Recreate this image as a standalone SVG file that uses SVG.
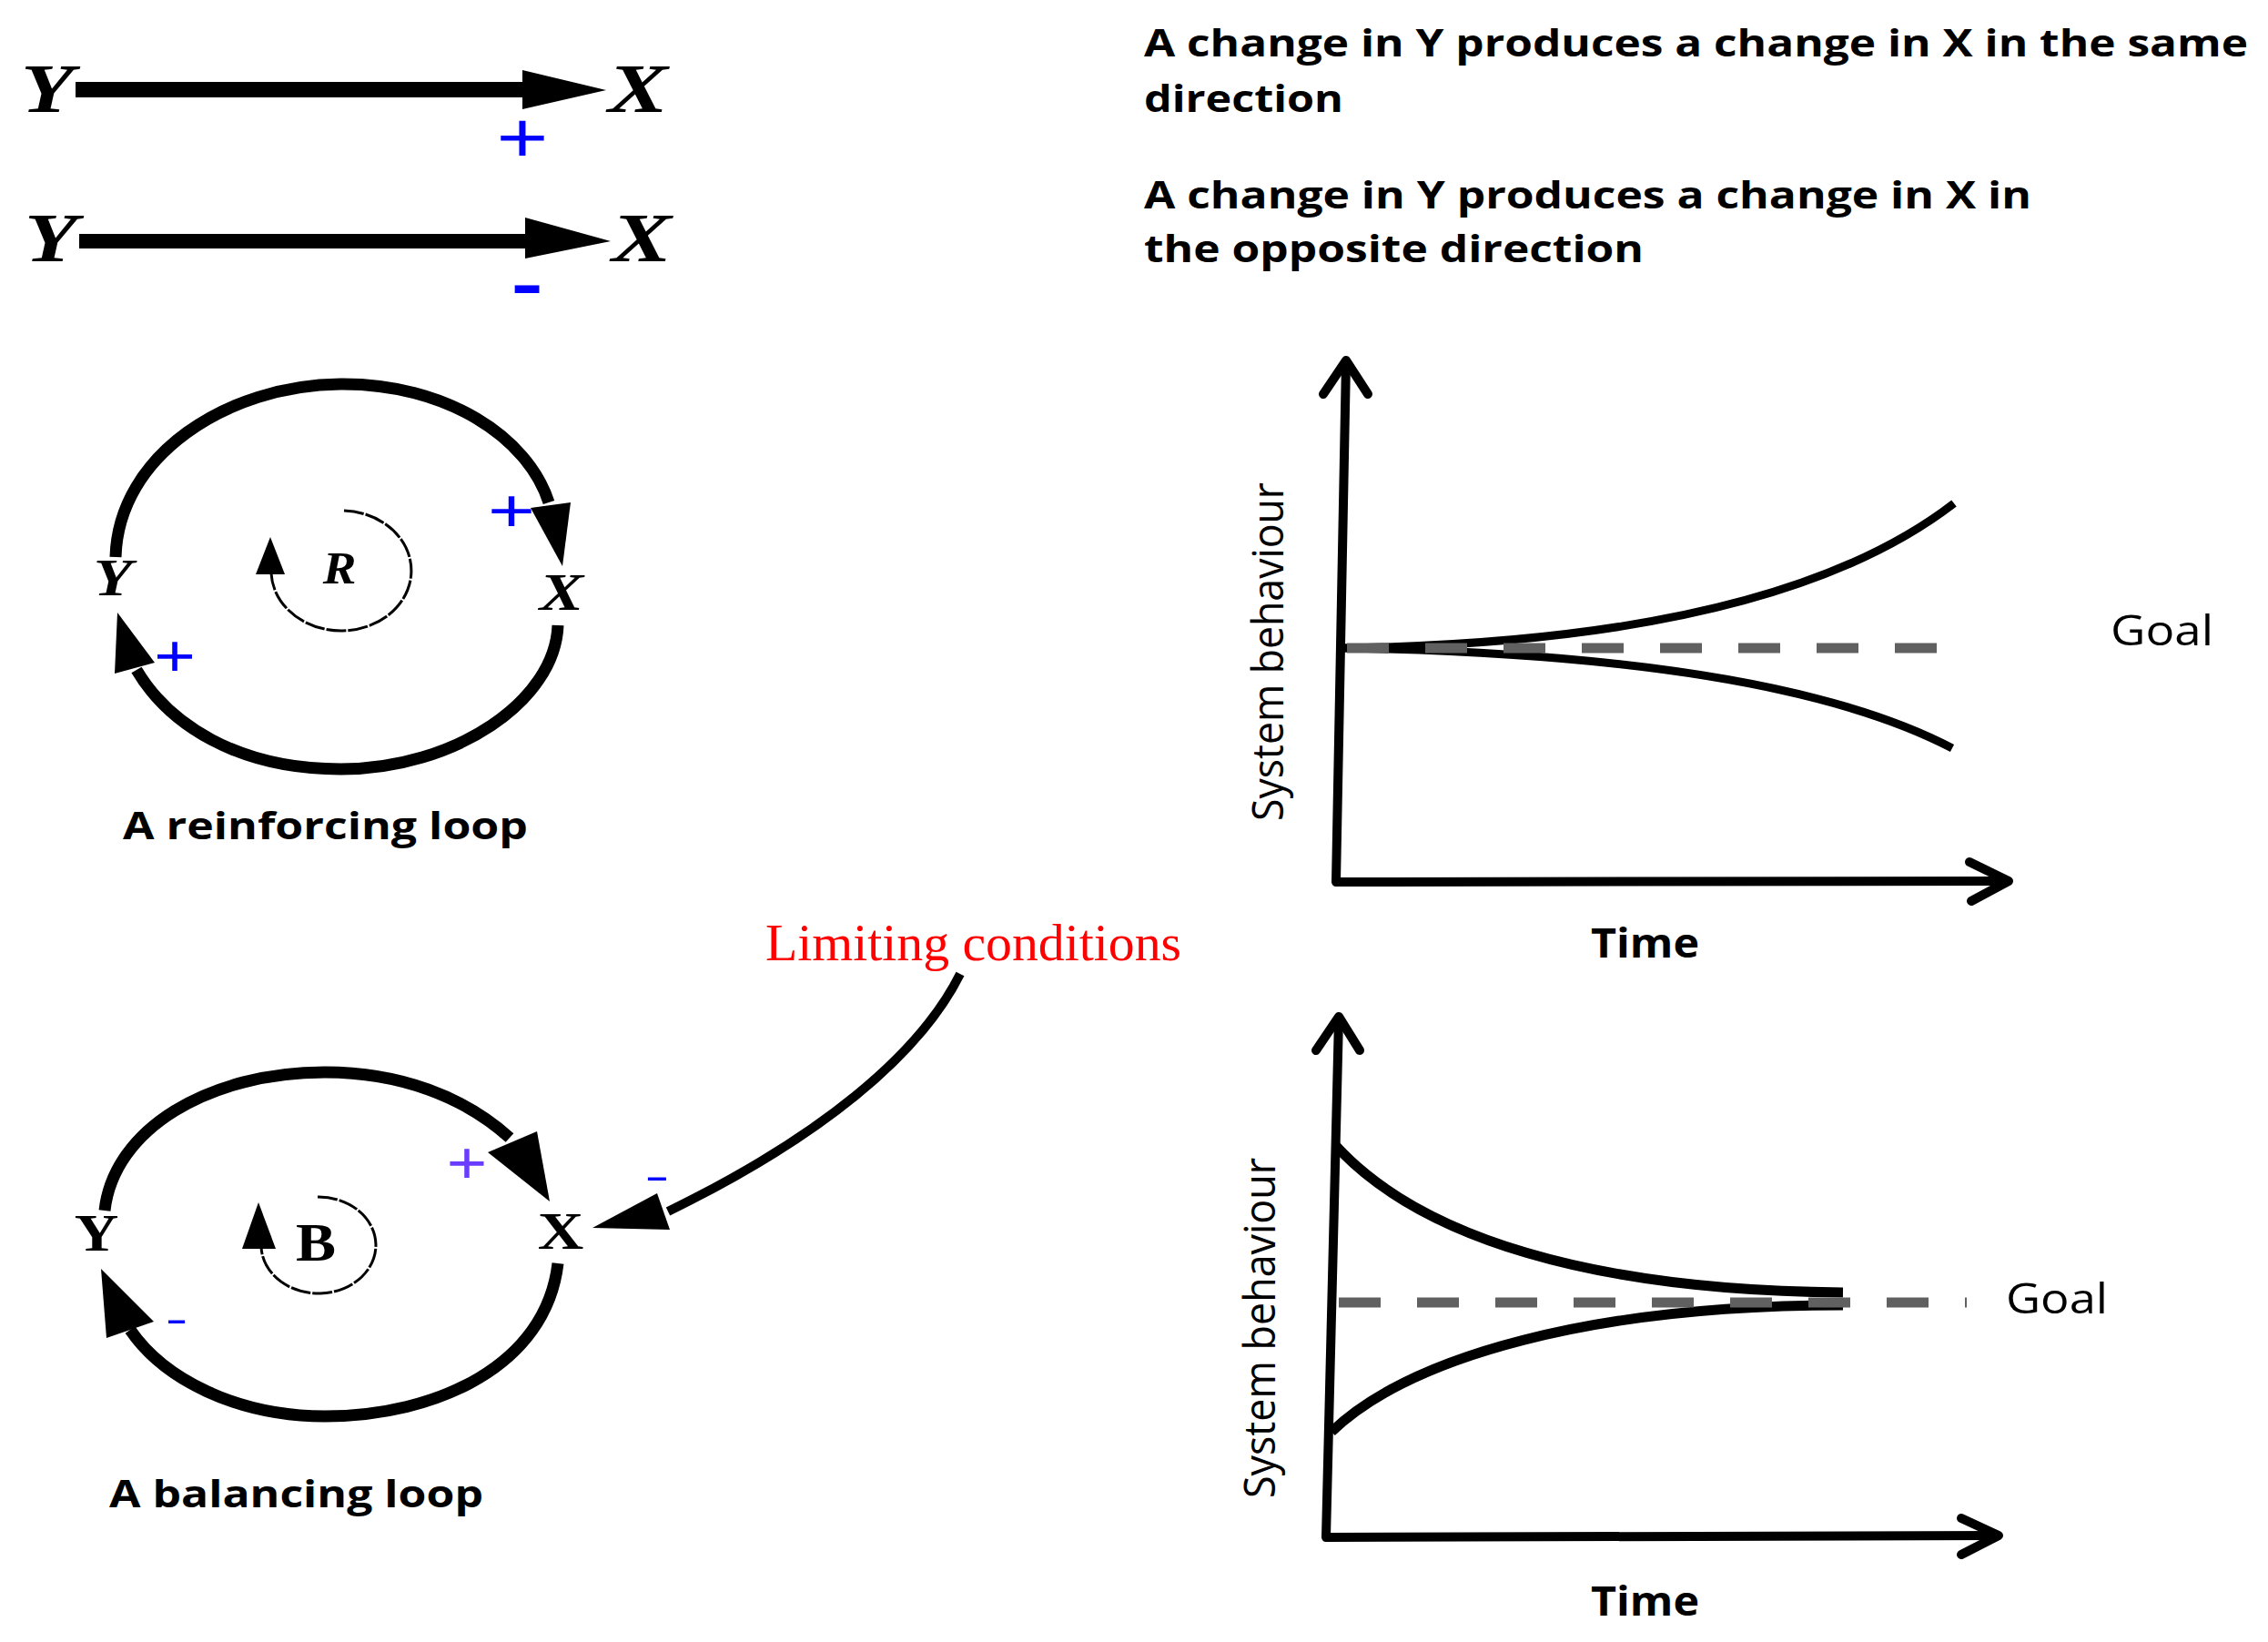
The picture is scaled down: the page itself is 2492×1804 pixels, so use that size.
<svg xmlns="http://www.w3.org/2000/svg" width="2492" height="1804" viewBox="0 0 2492 1804">
<style>
.it { font-family: "Liberation Serif", "Times New Roman", serif; font-weight: bold; font-style: italic; fill: #000; text-anchor: middle; }
.up { font-family: "Liberation Serif", "Times New Roman", serif; font-weight: bold; fill: #000; text-anchor: middle; }
.sans { font-family: "Open Sans", "Liberation Sans", sans-serif; fill: #000; }
.bold { font-weight: bold; }
.sign { font-family: "Liberation Sans", Arial, sans-serif; fill: #0000ff; text-anchor: middle; }
.red { font-family: "Liberation Serif", "Times New Roman", serif; fill: #ff0000; }
.loop { fill: none; stroke: #000; stroke-width: 13; }
.inner { fill: none; stroke: #000; stroke-width: 3; stroke-dasharray: 22 2; }
.axis { fill: none; stroke: #000; stroke-width: 10; stroke-linecap: round; stroke-linejoin: round; }
.curve { fill: none; stroke: #000; stroke-width: 9; }
.goal { fill: none; stroke: #606060; stroke-width: 11; stroke-dasharray: 46 40; }
.head { fill: #000; stroke: none; }
</style>

<g id="connectors">
  <g id="link-positive">
    <rect class="head" x="83" y="90" width="494" height="17"/>
    <polygon class="head" points="574,77 666,99 574,120"/>
  </g>
  <g id="link-negative">
    <rect class="head" x="87" y="257" width="492" height="16"/>
    <polygon class="head" points="577,239 671,265 577,284"/>
  </g>
  <g id="reinforcing-links">
    <path class="loop" d="M127 612 C130 500 250 423 374 422 C490 421 580 480 603 552"/>
    <polygon class="head" points="583,558 627,552 618,622"/>
    <path class="loop" d="M613 687 C610 770 500 845 374 845 C260 845 185 795 150 736"/>
    <polygon class="head" points="129,673 126,740 170,728"/>
    <path class="inner" d="M378 561 A77 66 0 1 1 298 630"/>
    <polygon class="head" points="297,590 281,631 313,631"/>
  </g>
  <g id="balancing-links">
    <path class="loop" d="M115 1330 C125 1240 230 1178 357 1178 C440 1178 510 1205 560 1250"/>
    <polygon class="head" points="536,1266 590,1243 604,1320"/>
    <path class="loop" d="M613 1388 C600 1500 480 1556 357 1556 C260 1556 180 1515 143 1461"/>
    <polygon class="head" points="111,1394 117,1470 169,1452"/>
    <path class="inner" d="M349 1315 A63 53 0 1 1 287 1370"/>
    <polygon class="head" points="284,1321 266,1372 303,1372"/>
  </g>
  <g id="limiting-link">
    <path fill="none" stroke="#000" stroke-width="10" d="M1055 1070 C1010 1160 900 1250 734 1331"/>
    <polygon class="head" points="651,1349 722,1311 736,1351"/>
  </g>
</g>

<g id="polarity">
  <text class="sign" font-size="78" transform="translate(574,150) scale(1.25,1)" y="27.5">+</text>
  <text class="sign" font-size="110" transform="translate(579,317)" y="29.7">-</text>
  <text class="sign" font-size="66" transform="translate(562,561) scale(1.35,1)" y="23.2">+</text>
  <text class="sign" font-size="64" transform="translate(192,720) scale(1.22,1)" y="22.5">+</text>
  <text class="sign" font-size="64" style="fill:#6a3cff" transform="translate(513,1277) scale(1.19,1)" y="22.5">+</text>
  <text class="sign" font-size="74" transform="translate(194,1452) scale(1,0.6)" y="20">-</text>
  <text class="sign" font-size="82" transform="translate(722,1295) scale(1,0.55)" y="22">-</text>
</g>

<g id="node-Y1"><text class="it" font-size="76" transform="translate(52,123) scale(1.25,1)">Y</text></g>
<g id="node-X1"><text class="it" font-size="76" transform="translate(701,123) scale(1.3,1)">X</text></g>
<g id="node-Y2"><text class="it" font-size="76" transform="translate(56,287) scale(1.25,1)">Y</text></g>
<g id="node-X2"><text class="it" font-size="76" transform="translate(705,287) scale(1.3,1)">X</text></g>

<g id="note-same">
  <text class="sans bold" font-size="42" x="1257" y="62" textLength="1213" lengthAdjust="spacingAndGlyphs">A change in Y produces a change in X in the same</text>
  <text class="sans bold" font-size="42" x="1257" y="123" textLength="219" lengthAdjust="spacingAndGlyphs">direction</text>
</g>
<g id="note-opposite">
  <text class="sans bold" font-size="42" x="1257" y="229" textLength="975" lengthAdjust="spacingAndGlyphs">A change in Y produces a change in X in</text>
  <text class="sans bold" font-size="42" x="1257" y="288" textLength="549" lengthAdjust="spacingAndGlyphs">the opposite direction</text>
</g>

<g id="node-Yr"><text class="it" font-size="58" transform="translate(124,654) scale(1.2,1)">Y</text></g>
<g id="node-Xr"><text class="it" font-size="58" transform="translate(617,670) scale(1.25,1)">X</text></g>
<g id="node-R"><text class="it" font-size="50" transform="translate(373,641) scale(1.1,1)">R</text></g>
<g id="caption-reinforcing"><text class="sans bold" font-size="42" x="135" y="922" textLength="445" lengthAdjust="spacingAndGlyphs">A reinforcing loop</text></g>

<g id="node-Yb"><text class="up" font-size="56" transform="translate(106,1374) scale(1.2,1)">Y</text></g>
<g id="node-Xb"><text class="up" font-size="56" transform="translate(616,1372) scale(1.25,1)">X</text></g>
<g id="node-B"><text class="up" font-size="60" transform="translate(347,1385) scale(1.1,1)">B</text></g>
<g id="caption-balancing"><text class="sans bold" font-size="42" x="120" y="1656" textLength="411" lengthAdjust="spacingAndGlyphs">A balancing loop</text></g>

<g id="node-limiting"><text class="red" font-size="56" x="841" y="1055" textLength="457" lengthAdjust="spacingAndGlyphs">Limiting conditions</text></g>

<g id="chart-reinforcing">
  <path class="curve" d="M1476 712 Q1950 705 2147 553"/>
  <path class="curve" d="M1476 712 Q1950 720 2145 822"/>
  <line class="goal" x1="1480" y1="712" x2="2168" y2="712"/>
  <path class="axis" d="M1479 398 L1468 969 L2205 968"/>
  <path class="axis" d="M1454 433 L1479 396 L1503 433"/>
  <path class="axis" d="M2164 947 L2207 968 L2166 990"/>
  <text class="sans" font-size="45" x="2319" y="709" textLength="113" lengthAdjust="spacingAndGlyphs">Goal</text>
  <text class="sans bold" font-size="45" x="1748" y="1052" textLength="119" lengthAdjust="spacingAndGlyphs">Time</text>
  <text class="sans" font-size="48" transform="translate(1410,902) rotate(-90)" textLength="372" lengthAdjust="spacingAndGlyphs">System behaviour</text>
</g>

<g id="chart-balancing">
  <path class="curve" style="stroke-width:11" d="M1467 1258 C1560 1360 1750 1418 2025 1420"/>
  <path class="curve" style="stroke-width:11" d="M1463 1573 C1550 1490 1750 1434 2025 1434"/>
  <line class="goal" x1="1471" y1="1431" x2="2161" y2="1431"/>
  <path class="axis" d="M1471 1119 L1457 1689 L2193 1687"/>
  <path class="axis" d="M1446 1154 L1471 1117 L1494 1154"/>
  <path class="axis" d="M2155 1668 L2196 1687 L2155 1708"/>
  <text class="sans" font-size="45" x="2204" y="1443" textLength="112" lengthAdjust="spacingAndGlyphs">Goal</text>
  <text class="sans bold" font-size="45" x="1748" y="1775" textLength="119" lengthAdjust="spacingAndGlyphs">Time</text>
  <text class="sans" font-size="48" transform="translate(1401,1646) rotate(-90)" textLength="374" lengthAdjust="spacingAndGlyphs">System behaviour</text>
</g>
</svg>
